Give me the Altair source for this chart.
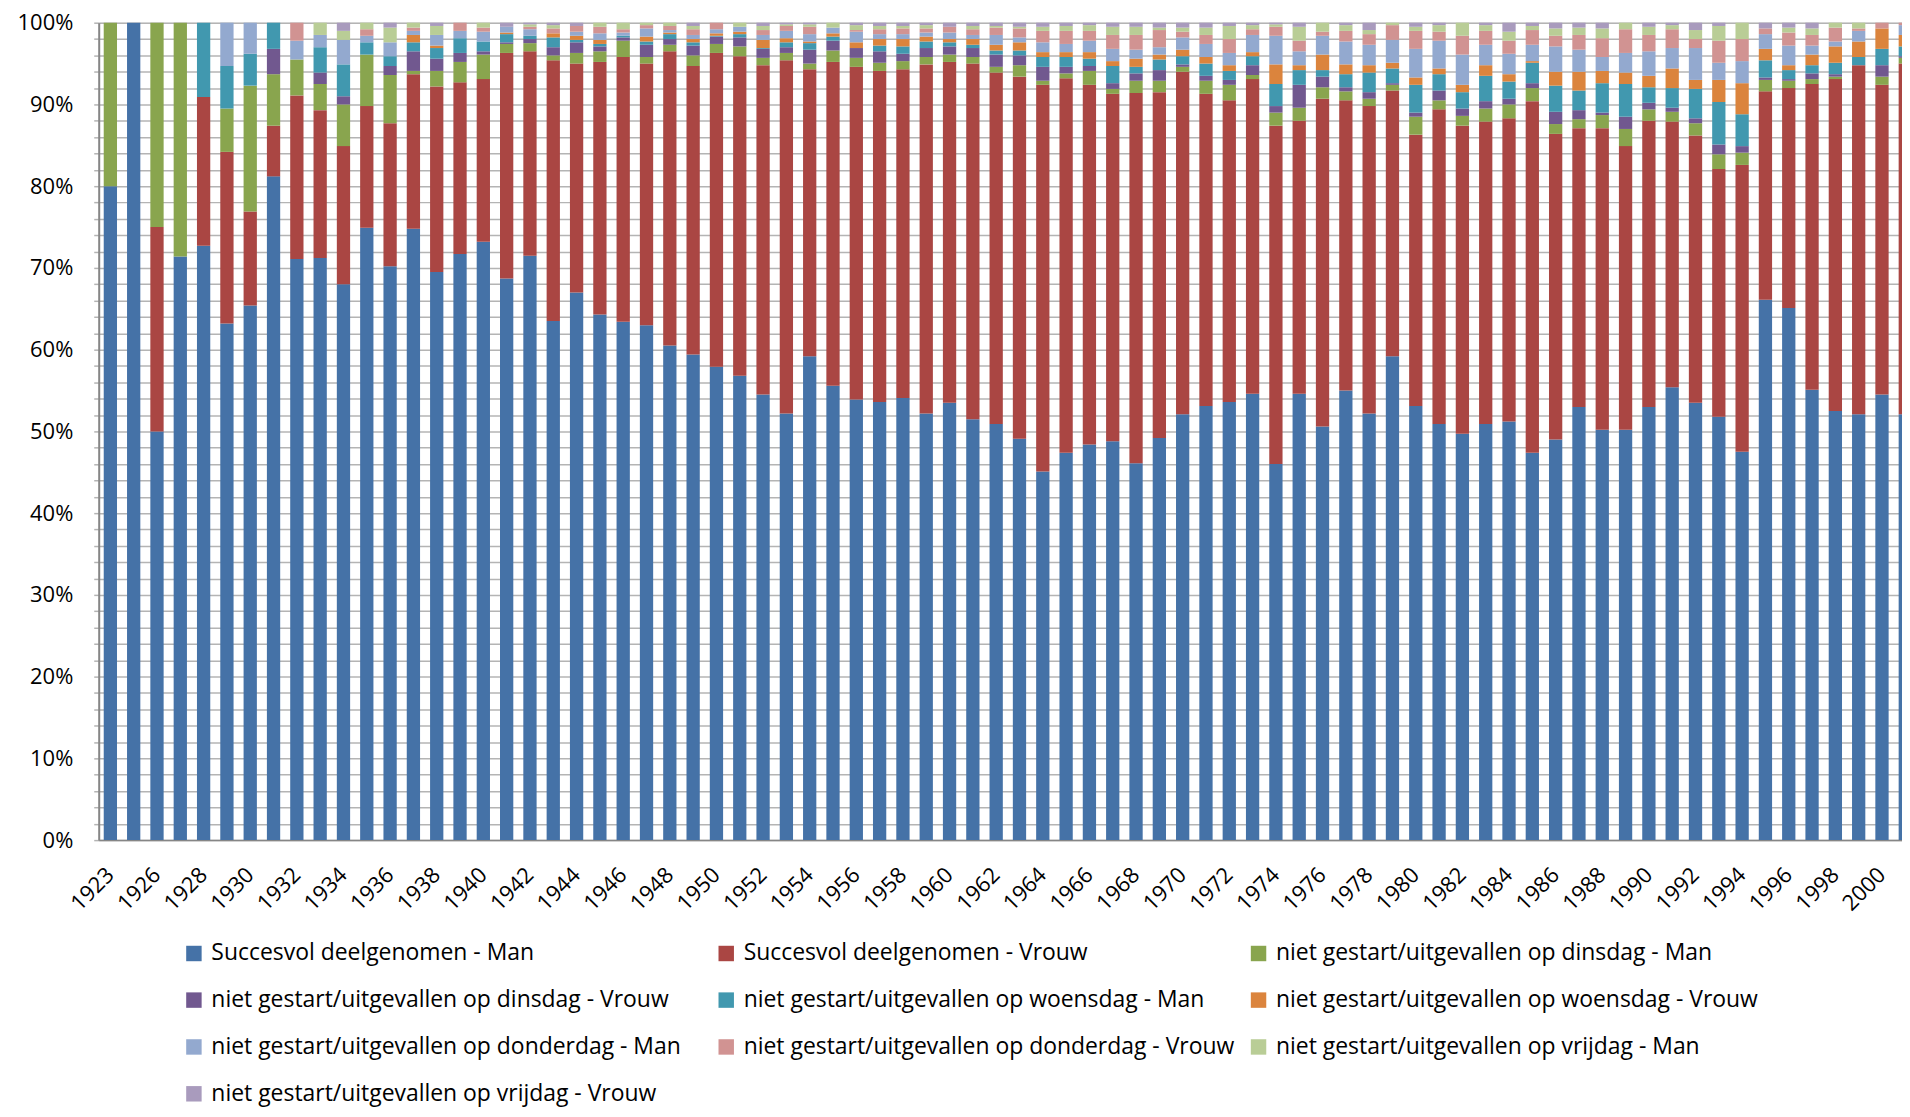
import altair as alt
import pandas as pd

years = ["1923", "1925", "1926", "1927", "1928", "1929", "1930", "1931", "1932", "1933",
         "1934", "1935", "1936", "1937", "1938", "1939", "1940", "1941", "1942", "1943",
         "1944", "1945", "1946", "1947", "1948", "1949", "1950", "1951", "1952", "1953",
         "1954", "1955", "1956", "1957", "1958", "1959", "1960", "1961", "1962", "1963",
         "1964", "1965", "1966", "1967", "1968", "1969", "1970", "1971", "1972", "1973",
         "1974", "1975", "1976", "1977", "1978", "1979", "1980", "1981", "1982", "1983",
         "1984", "1985", "1986", "1987", "1988", "1989", "1990", "1991", "1992", "1993",
         "1994", "1995", "1996", "1997", "1998", "1999", "2000", "2001"]

x_labels = ["1923", "1926", "1928", "1930", "1932", "1934", "1936", "1938", "1940", "1942",
            "1944", "1946", "1948", "1950", "1952", "1954", "1956", "1958", "1960", "1962",
            "1964", "1966", "1968", "1970", "1972", "1974", "1976", "1978", "1980", "1982",
            "1984", "1986", "1988", "1990", "1992", "1994", "1996", "1998", "2000"]

series_names = [
    "Succesvol deelgenomen - Man",
    "Succesvol deelgenomen - Vrouw",
    "niet gestart/uitgevallen op dinsdag - Man",
    "niet gestart/uitgevallen op dinsdag - Vrouw",
    "niet gestart/uitgevallen op woensdag - Man",
    "niet gestart/uitgevallen op woensdag - Vrouw",
    "niet gestart/uitgevallen op donderdag - Man",
    "niet gestart/uitgevallen op donderdag - Vrouw",
    "niet gestart/uitgevallen op vrijdag - Man",
    "niet gestart/uitgevallen op vrijdag - Vrouw",
]

colors = ["#4572A7", "#AA4643", "#89A54E", "#71588F", "#4198AF",
          "#DB843D", "#93A9CF", "#D19392", "#B9CD96", "#A99BBD"]

succes_man = [80, 100, 50, 71.4, 72.7, 63.2, 65.4, 81.2, 71.1, 71.2,
              68.0, 74.9, 70.2, 74.8, 69.5, 71.7, 73.2, 68.7, 71.5, 63.5,
              67.0, 64.3, 63.4, 63.0, 60.5, 59.4, 57.9, 56.8, 54.5, 52.2,
              59.2, 55.6, 53.9, 53.6, 54.1, 52.2, 53.5, 51.5, 50.9, 49.1,
              45.1, 47.4, 48.4, 48.8, 46.1, 49.2, 52.1, 53.1, 53.6, 54.6,
              46.0, 54.6, 50.6, 55.0, 52.2, 59.2, 53.1, 50.9, 49.7, 50.9,
              51.2, 47.4, 49.0, 53.0, 50.2, 50.2, 53.0, 55.4, 53.5, 51.8,
              47.5, 66.1, 65.1, 55.1, 52.5, 52.1, 54.5, 52.1]

succes_vrouw = [0, 0, 25, 0, 18.2, 21.0, 11.5, 6.2, 20.0, 18.1,
                16.9, 14.9, 17.5, 18.9, 22.7, 21.0, 19.9, 27.6, 25.0, 31.9,
                28.0, 30.9, 32.4, 32.0, 36.0, 35.3, 38.4, 39.1, 40.3, 43.2,
                35.1, 39.6, 40.7, 40.5, 40.2, 42.7, 41.7, 43.5, 43.0, 44.3,
                47.3, 45.8, 44.0, 42.5, 45.3, 42.3, 41.9, 38.2, 36.9, 38.5,
                41.4, 33.4, 40.1, 35.5, 37.6, 32.5, 33.2, 38.5, 37.7, 37.0,
                37.1, 43.0, 37.4, 34.1, 36.9, 34.7, 35.0, 32.5, 32.7, 30.3,
                35.1, 25.5, 26.9, 37.4, 40.6, 42.7, 37.9, 42.9]

di_man = [20, 0, 25, 28.6, 0, 5.3, 15.4, 6.3, 4.4, 3.2,
          5.1, 6.3, 5.9, 0.4, 1.9, 2.5, 3.0, 1.1, 1.0, 0.6,
          1.3, 1.3, 2.0, 0.8, 0.8, 1.3, 1.1, 1.2, 0.9, 0.9,
          0.7, 1.4, 1.1, 1.0, 1.0, 0.9, 0.9, 0.8, 0.7, 1.4,
          0.5, 0.6, 1.7, 0.6, 1.5, 1.4, 0.6, 1.6, 1.9, 0.5,
          1.6, 1.6, 1.4, 1.1, 0.9, 0.7, 2.2, 1.1, 1.2, 1.6,
          1.7, 1.6, 1.2, 1.1, 1.6, 2.1, 1.4, 1.2, 1.5, 1.8,
          1.5, 1.4, 0.9, 0.6, 0.3, 0, 1.0, 0.7]

di_vrouw = [0, 0, 0, 0, 0, 0, 0, 3.1, 0, 1.4,
            1.0, 0, 1.1, 2.4, 1.5, 1.1, 0.4, 0.2, 0.5, 1.0,
            1.3, 0.6, 0.4, 1.5, 0.7, 1.2, 0.9, 1.1, 1.1, 0.7,
            1.7, 1.2, 1.2, 1.4, 0.9, 1.1, 1.0, 1.1, 1.5, 1.2,
            1.7, 0.8, 0.6, 0.7, 0.9, 1.3, 0.3, 0.6, 0.6, 1.2,
            0.8, 2.8, 1.3, 0.5, 0.8, 0.2, 0.5, 1.2, 0.9, 0.9,
            0.7, 0.6, 1.5, 1.1, 0.3, 1.5, 0.8, 0.5, 0.6, 1.2,
            0.8, 0.3, 0.2, 0.7, 0.3, 0, 1.4, 0.2]

wo_man = [0, 0, 0, 0, 9.1, 5.2, 3.9, 3.2, 0, 3.1,
          3.9, 1.5, 1.2, 1.1, 1.3, 1.8, 1.2, 1.0, 0.4, 1.2,
          0.3, 0.3, 0.2, 0.4, 0.6, 0.4, 0.1, 0.4, 0.1, 0.6,
          0.8, 0.5, 0, 0.7, 0.9, 0.8, 0.5, 0.4, 0.5, 0.6,
          1.2, 1.2, 0.9, 2.1, 0.8, 1.3, 1.0, 1.5, 1.1, 1.1,
          2.7, 1.8, 0.8, 1.6, 2.4, 1.8, 3.4, 2.0, 2.0, 3.1,
          2.1, 2.5, 3.2, 2.4, 3.6, 4.0, 1.9, 2.4, 3.6, 5.2,
          3.9, 2.1, 1.1, 1.0, 1.4, 1.0, 2.0, 1.2]

wo_vrouw = [0, 0, 0, 0, 0, 0, 0, 0, 0, 0,
            0, 0, 0, 0.9, 0.3, 0, 0, 0.2, 0, 0.5,
            0.5, 0.5, 0, 0.6, 0.2, 0.4, 0.3, 0.3, 1.0, 0.5,
            0.2, 0.4, 0.7, 0.8, 0.9, 0.6, 0.4, 0.7, 0.7, 1.0,
            0.6, 0.6, 0.8, 0.6, 1.0, 0.6, 0.8, 0.8, 0.7, 0.5,
            2.4, 0.6, 1.9, 1.2, 0.9, 0.7, 0.9, 0.7, 0.9, 1.3,
            0.9, 0.2, 1.7, 2.3, 1.5, 1.4, 1.4, 2.4, 1.1, 2.7,
            3.8, 1.4, 0.6, 1.3, 2.0, 1.9, 2.5, 1.4]

do_man = [0, 0, 0, 0, 0, 5.3, 3.8, 0, 2.3, 1.5,
          3.0, 0.8, 1.7, 0.5, 1.3, 0.9, 1.2, 0.7, 0.8, 0,
          0.5, 0.8, 0.4, 1.0, 0.3, 0.5, 0.5, 0.6, 0.6, 0.9,
          0.9, 0.7, 1.3, 0.6, 0.6, 0.5, 0.8, 0.5, 1.2, 0.6,
          1.2, 1.0, 1.4, 1.5, 1.1, 0.9, 1.5, 1.6, 1.5, 2.1,
          3.5, 1.7, 2.3, 2.8, 2.5, 2.8, 3.5, 3.4, 3.7, 2.5,
          2.5, 2.0, 3.1, 2.7, 1.7, 2.4, 3.0, 2.5, 3.9, 2.1,
          2.7, 1.8, 2.4, 1.1, 0.6, 1.3, 0, 1.2]

do_vrouw = [0, 0, 0, 0, 0, 0, 0, 0, 2.2, 0,
            0, 0.8, 0, 0.4, 0, 1.0, 0.5, 0, 0.3, 0.6,
            0.7, 0.8, 0.4, 0.4, 0.5, 0.7, 0.8, 0, 0.6, 0.6,
            0.9, 0, 0.2, 0.6, 0.7, 0.5, 0.7, 0.7, 0.9, 1.1,
            1.4, 1.6, 1.2, 1.7, 1.8, 2.1, 0.7, 1.1, 1.7, 0.7,
            1.1, 1.3, 0.5, 1.3, 1.3, 1.8, 2.2, 1.1, 2.3, 1.7,
            1.6, 1.8, 1.3, 1.8, 2.3, 2.9, 2.0, 2.3, 1.1, 2.7,
            2.7, 0.7, 1.6, 1.3, 1.7, 0.3, 0.7, 0.3]

vr_man = [0, 0, 0, 0, 0, 0, 0, 0, 0, 1.5,
          1.1, 0.8, 1.8, 0.6, 1.1, 0, 0.6, 0, 0.3, 0.4,
          0, 0.5, 0.8, 0.3, 0.4, 0.4, 0, 0.5, 0.5, 0.2,
          0.3, 0.6, 0.6, 0.4, 0.3, 0.4, 0, 0.4, 0.2, 0.2,
          0.5, 0.6, 0.7, 1.0, 1.0, 0.3, 0.5, 0.9, 1.6, 0.5,
          0.3, 1.7, 1.1, 0.7, 0.5, 0.3, 0.5, 0.8, 1.6, 0.7,
          1.1, 0.5, 0.9, 0.9, 1.2, 0.8, 1.0, 0.5, 1.1, 1.8,
          2.0, 0, 0.6, 0.8, 0.6, 0.7, 0, 0]

vr_vrouw = [0, 0, 0, 0, 0, 0, 0, 0, 0, 0,
            1.0, 0, 0.6, 0, 0.4, 0, 0, 0.5, 0.2, 0.3,
            0.4, 0, 0, 0, 0, 0.4, 0, 0, 0.4, 0.2,
            0.2, 0, 0.3, 0.4, 0.4, 0.3, 0.5, 0.4, 0.4, 0.5,
            0.5, 0.4, 0.3, 0.5, 0.5, 0.6, 0.6, 0.6, 0.4, 0.3,
            0.2, 0.5, 0, 0.3, 0.9, 0, 0.5, 0.3, 0, 0.3,
            1.1, 0.4, 0.7, 0.6, 0.7, 0, 0.5, 0.3, 0.9, 0.4,
            0, 0.7, 0.6, 0.7, 0, 0, 0, 0]

series_values = [succes_man, succes_vrouw, di_man, di_vrouw, wo_man,
                 wo_vrouw, do_man, do_vrouw, vr_man, vr_vrouw]

rows = []
for k, (name, vals) in enumerate(zip(series_names, series_values)):
    for year, v in zip(years, vals):
        rows.append({"jaar": year, "reeks": name, "waarde": v, "volgorde": k})
df = pd.DataFrame(rows)

y_ticks = [i / 50 for i in range(51)]

chart = alt.Chart(df).mark_bar().encode(
    x=alt.X("jaar:N", sort=years, title=None,
            scale=alt.Scale(paddingInner=0.43, paddingOuter=0.215, range=[0, 1824]),
            axis=alt.Axis(values=x_labels, labelAngle=-45, labelAlign="right",
                          labelBaseline="middle", ticks=False, tickSize=0,
                          labelPadding=31, labelFontSize=22, labelFont="Open Sans",
                          labelColor="#000000", domainColor="#868686",
                          domainWidth=1.5, grid=False, labelOverlap=False)),
    y=alt.Y("waarde:Q", stack="normalize", title=None,
            scale=alt.Scale(domain=[0, 1], nice=False),
            axis=alt.Axis(values=y_ticks, format=".0%",
                          labelExpr="round(datum.value * 100) % 10 == 0 ? datum.label : ''",
                          labelFontSize=22, labelFont="Open Sans", labelColor="#000000",
                          tickSize=5, tickColor="#b4b4b4", tickWidth=1.5,
                          labelPadding=21, domainColor="#868686", domainWidth=2,
                          grid=True, gridColor="#b4b4b4", gridWidth=1.5,
                          labelOverlap=False)),
    color=alt.Color("reeks:N", title=None,
                    scale=alt.Scale(domain=series_names, range=colors),
                    legend=alt.Legend(orient="none", legendX=84, legendY=922,
                                      direction="horizontal", columns=3,
                                      symbolType="square", symbolSize=240,
                                      symbolStrokeWidth=0, labelFontSize=23,
                                      labelFont="Open Sans", labelColor="#000000",
                                      labelOffset=6, labelLimit=1000,
                                      columnPadding=12, rowPadding=23,
                                      gridAlign="all", padding=0)),
    order=alt.Order("volgorde:Q", sort="ascending"),
).properties(
    width=1809,
    height=820,
    autosize=alt.AutoSizeParams(type="none"),
    padding={"left": 91, "top": 13, "right": 0, "bottom": 267},
).configure_view(stroke=None).configure(background="white")

chart.save("out.html", embed_options={"renderer": "svg", "actions": False})
